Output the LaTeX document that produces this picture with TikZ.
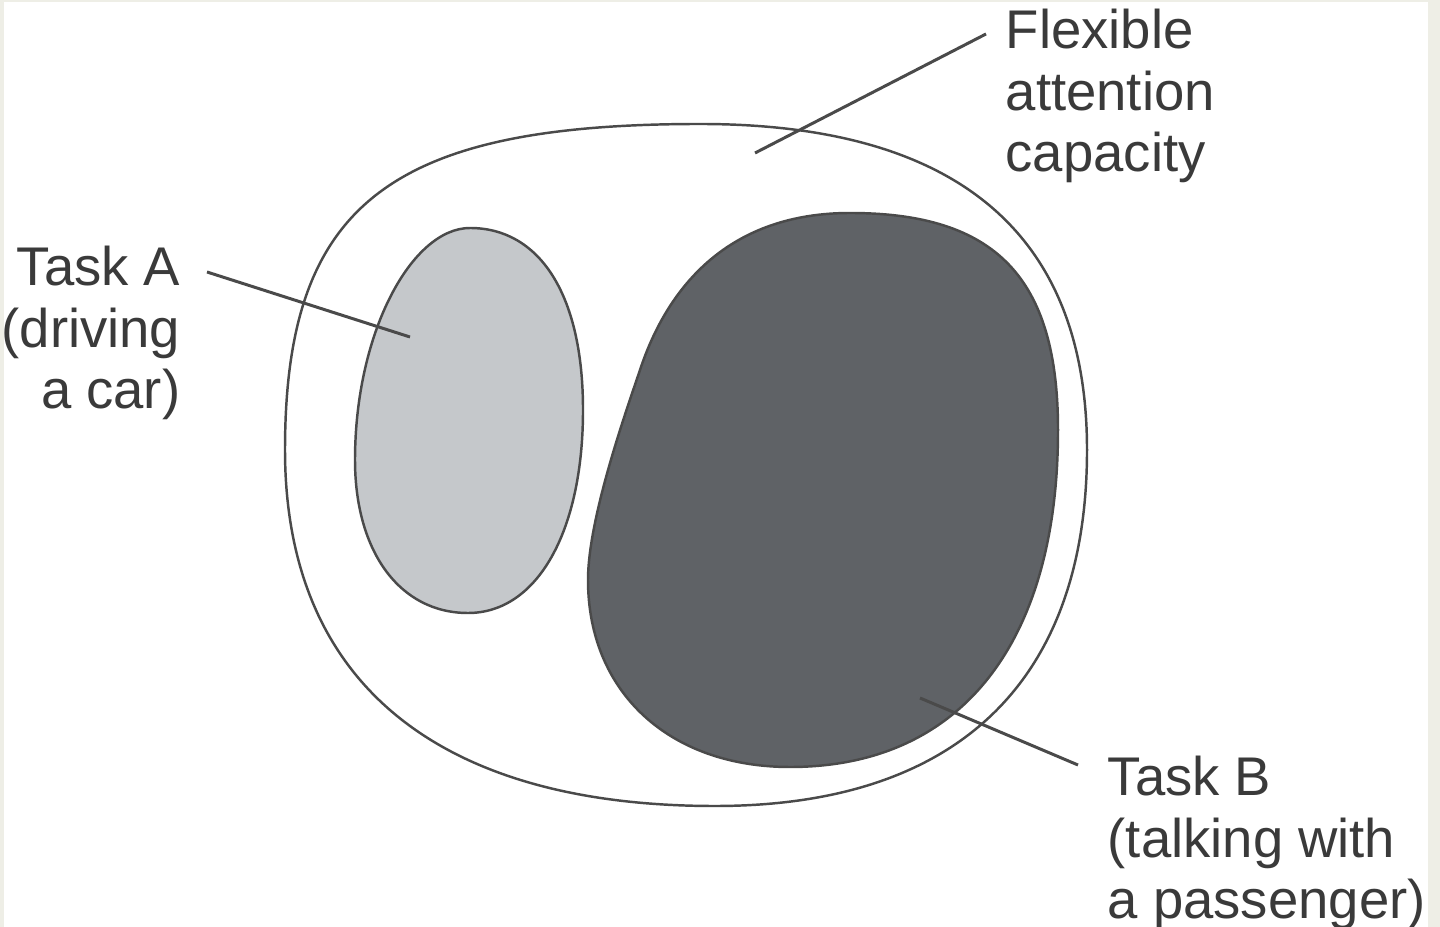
\documentclass[tikz,border=0pt]{standalone}
\usepackage{fontspec}
\setmainfont{Liberation Sans}
\usepackage{tikz}

\definecolor{framebeige}{HTML}{EEEEE6}
\definecolor{outline}{HTML}{4A4A4A}
\definecolor{taskAgray}{HTML}{C5C8CB}
\definecolor{taskBgray}{HTML}{5F6266}
\definecolor{labeltext}{HTML}{3A3A3A}

\begin{document}
\begin{tikzpicture}[x=0.1mm,y=-0.1mm,
	shapeline/.style={draw=outline,line width=0.7pt},
	leader/.style={draw=outline,line width=0.85pt},
	labeltxt/.style={inner sep=0pt,text=labeltext,font=\fontsize{15.5}{17.6}\selectfont}]
	
	% Draw the frame
	\fill[framebeige] (0,0) rectangle (1440,927);
	\fill[white] (4,2) rectangle (1428,927);
	\useasboundingbox (0,0) rectangle (1440,927);
	
	% Draw the flexible capacity (outer shape)
	\draw[shapeline,fill=white] (700,124)
		.. controls (998,124) and (1087,271) .. (1087,450)
		.. controls (1087,671) and (968,806) .. (715,806)
		.. controls (436,806) and (285,681) .. (285,450)
		.. controls (285,205) and (389,124) .. cycle;
	
	% Draw task A
	\draw[shapeline,fill=taskAgray] (470,228)
		.. controls (538,228) and (583,292) .. (583,410)
		.. controls (583,532) and (537,613) .. (468,613)
		.. controls (400,613) and (355,552) .. (355,460)
		.. controls (355,332) and (412,228) .. cycle;
	
	% Draw task B
	\draw[shapeline,fill=taskBgray] (850,213)
		.. controls (996,213) and (1058,278) .. (1058,430)
		.. controls (1058,639) and (964,767) .. (790,767)
		.. controls (669,767) and (588,692) .. (588,580)
		.. controls (588,520) and (624,417) .. (640,370)
		.. controls (668,285) and (730,213) .. cycle;
	
	% Draw the labels
	\node[labeltxt,anchor=north west,align=left] (flex) at (1005,8) {Flexible\\attention\\capacity};
	\node[labeltxt,anchor=north east,align=right] (taskA) at (181,245) {Task A\\(driving\\a car)};
	\node[labeltxt,anchor=north west,align=left] (taskB) at (1107,755) {Task B\\(talking with\\a passenger)};
	
	% Draw the leader lines
	\coordinate (flexpt) at (755,153);
	\coordinate (taskApt) at (410,337);
	\coordinate (taskBpt) at (920,698);
	\draw[leader] (flexpt) -- ([shift={(-19,26)}]flex.north west);
	\draw[leader] (taskApt) -- ([shift={(26,27)}]taskA.north east);
	\draw[leader] (taskBpt) -- ([shift={(-29,10)}]taskB.north west);
	
\end{tikzpicture}
\end{document}
